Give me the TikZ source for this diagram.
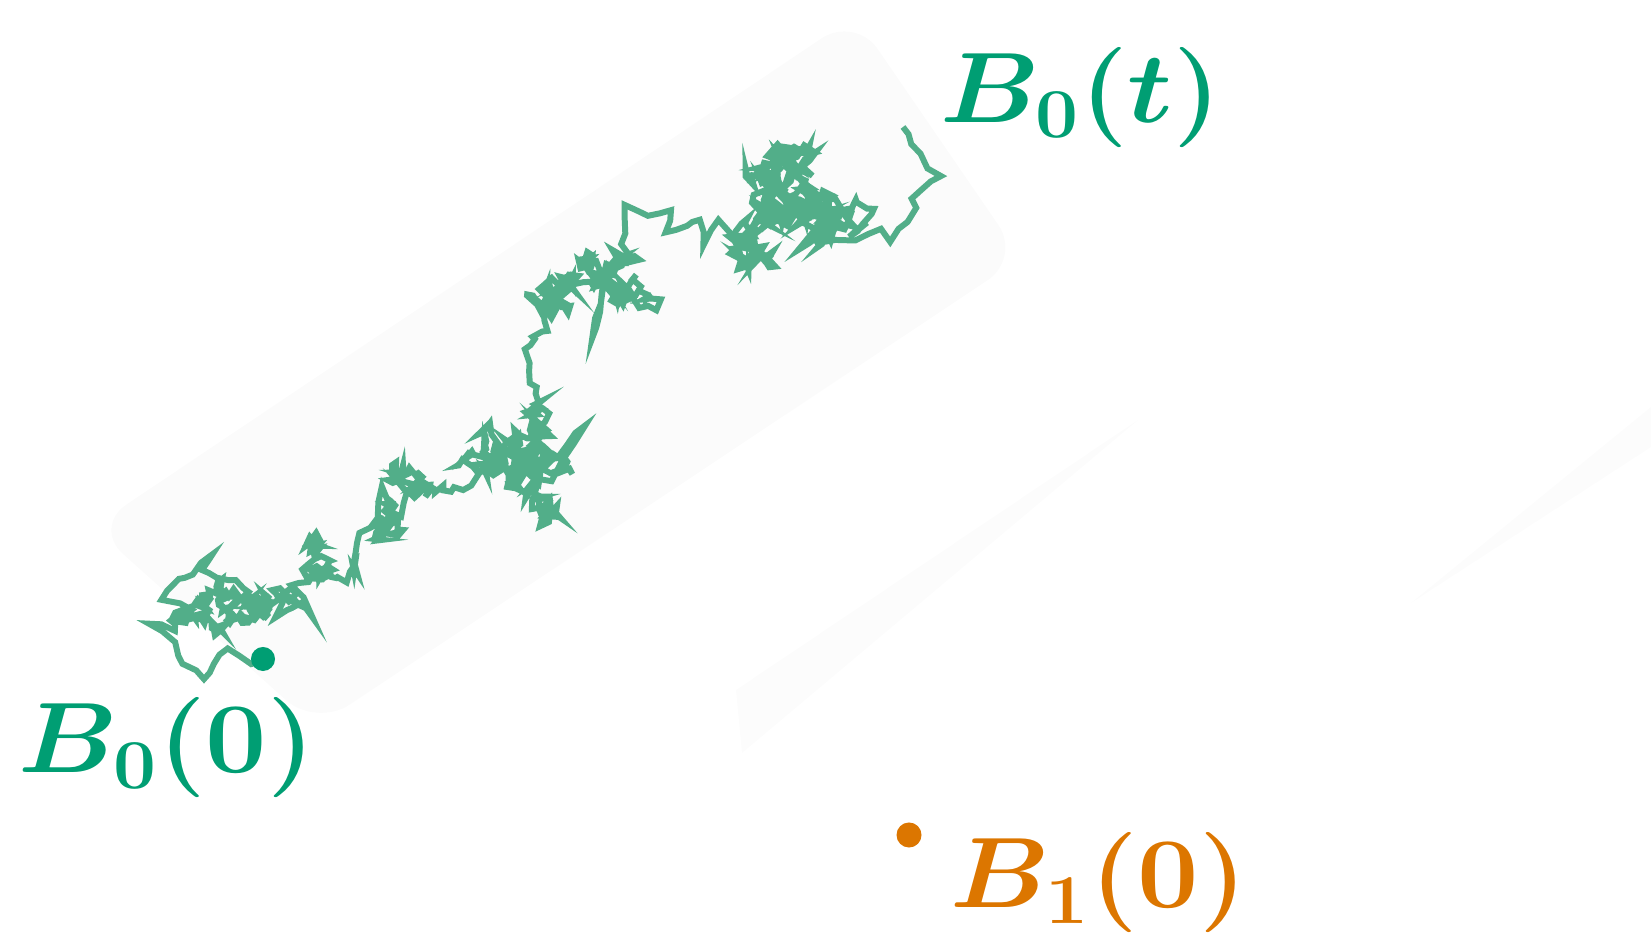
\RequirePackage{fix-cm}
\documentclass[tikz,border=0pt]{standalone}
\usetikzlibrary{positioning}
\definecolor{walkgreen}{HTML}{52AE89}
\definecolor{dotgreen}{HTML}{009E73}
\definecolor{dotorange}{HTML}{DC7600}

\begin{document}
\begin{tikzpicture}[x=0.01cm, y=-0.01cm, every node/.style={font=\fontsize{28.45}{34}\selectfont\boldmath}]
    \tikzset{walkline/.style={walkgreen,line width=1.7pt},
      spot/.style={circle,inner sep=0pt,minimum size=0.24cm},
      tag/.style={inner sep=0pt,xscale=1.09,anchor=base west}}
    \useasboundingbox (0,0) rectangle (1651,934);
    % faint bands behind the walk
    \fill[black!1.6,rounded corners=0.4cm] (93,527) -- (855,16) -- (1021,258) -- (316,727) -- cycle;
    \fill[black!1] (736,690) -- (1138,420) -- (742,753) -- cycle;
    \fill[black!1] (1651,407) -- (1411,603) -- (1651,447) -- cycle;
    \coordinate (b0) at (263,659);
    \coordinate (b1) at (909,835);
    % brownian path, bridge between waypoints
    \pgfmathsetseed{11}
    \def\walk{(b0)}
    \def\wx{263}\def\wy{659}
    \foreach \tx/\ty/\sp/\cnt in {250/665/3/2, 227/650/3/2, 215/663/3/2, 203/677/3/2, 183/662/3/2,
        173/643/3/2, 147/623/2/2, 173/630/3/2, 170/620/3/2, 180/613/3/2, 185/612/8/80,
        163/597/3/2, 177/577/3/2, 190/573/3/2, 213/553/2/2, 200/573/3/2, 217/580/3/2,
        237/582/3/2, 247/593/3/2, 223/613/2/2, 250/597/3/2, 257/607/3/2,
        282/612/8/90, 300/600/4/3, 313/620/3/2, 290/583/3/2, 307/580/3/2, 323/567/3/2,
        347/567/8/60, 360/533/4/3, 380/520/3/2, 380/487/2/2, 393/513/3/2, 397/513/7/45,
        407/493/3/2, 423/487/3/2, 447/493/8/60, 473/487/3/2, 487/463/3/2,
        515/465/11/110, 545/478/11/110, 587/427/2/3, 548/462/6/4, 535/440/5/6,
        530/413/4/3, 540/400/4/3, 533/380/4/3, 523/353/4/3, 533/333/4/3, 550/330/3/2,
        543/307/3/2, 550/297/3/2, 567/287/3/2, 595/275/10/90, 595/340/3/4, 605/285/4/3,
        615/245/10/90, 627/207/3/3, 650/217/3/2, 673/213/3/2, 667/233/3/2, 687/223/3/2,
        700/217/3/2, 703/247/3/2, 717/220/3/2, 747/247/3/2, 753/240/3/2,
        765/215/12/110, 788/150/12/120, 800/205/12/90, 825/245/8/50,
        853/240/3/2, 880/230/3/2, 890/240/2/1, 900/227/2/1, 917/210/3/2, 913/197/2/1,
        933/180/3/2, 940/177/1/1, 927/167/2/1, 913/143/3/2, 910/133/2/1, 903/127/0/1}{
      \foreach \k in {1,...,\cnt}{
        \pgfmathsetmacro\px{\wx+(\tx-\wx)/(\cnt-\k+1)+\sp*rand}
        \pgfmathsetmacro\py{\wy+(\ty-\wy)/(\cnt-\k+1)+\sp*rand}
        \xdef\wx{\px}\xdef\wy{\py}
        \xdef\walk{\walk -- (\px,\py)}
      }
    }
    \coordinate (b0t) at (\wx,\wy);
    \draw[walkline] \walk;
    \node[spot,fill=dotgreen] (p0) at (b0) {};
    \node[spot,fill=dotorange,minimum size=0.25cm] (p1) at (b1) {};
    \node[tag,dotgreen] (l0) at (18,773) {$B_0(0)$};
    \node[tag,dotgreen] (lt) at (940,123) {$B_0(t)$};
    \node[tag,dotorange] (l1) at (950,908) {$B_1(0)$};
  \end{tikzpicture}
\end{document}
